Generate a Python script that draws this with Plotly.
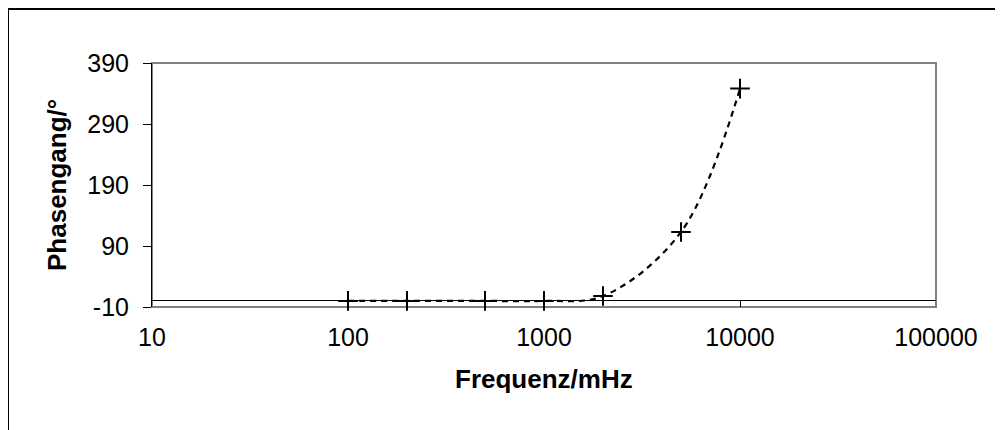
import plotly.graph_objects as go

# Data
frequency_mhz = [100, 200, 500, 1000, 2000, 5000, 10000]
phase_deg = [0, 0, 0, 0, 8, 113, 348]

x_tick_vals = [10, 100, 1000, 10000, 100000]
x_tick_text = ["10", "100", "1000", "10000", "100000"]
y_tick_vals = [-10, 90, 190, 290, 390]
y_tick_text = ["-10", "90", "190", "290", "390"]

# figure is placed by the page at (8, 8); sizes chosen so it fits the window
W, H = 995, 422
L, R, T, B = 144, 67, 55, 123
PW, PH = W - L - R, H - T - B

FONT = "Liberation Sans, Arial, sans-serif"
TICK_SIZE = 25
TITLE_SIZE = 26

fig = go.Figure()
fig.add_trace(go.Scatter(
    x=frequency_mhz, y=phase_deg,
    mode="lines+markers",
    line=dict(color="black", width=2.2, dash="6px,5px", shape="spline", smoothing=1.0),
    marker=dict(symbol="cross-thin", size=14, line=dict(color="black", width=2), color="black"),
    showlegend=False,
    cliponaxis=False,
))


def px_x(p):
    return (p - L) / PW


def px_y(p):
    return (T + PH - p) / PH


fig.update_layout(
    width=W, height=H,
    margin=dict(l=L, r=R, t=T, b=B, pad=0),
    paper_bgcolor="white", plot_bgcolor="white",
    font=dict(family=FONT, size=TICK_SIZE, color="black"),
    xaxis=dict(
        type="log", range=[1, 5],
        tickmode="array", tickvals=x_tick_vals, ticktext=x_tick_text,
        ticks="inside", ticklen=7, tickwidth=1, tickcolor="black",
        showgrid=False, zeroline=False, showline=False,
        ticklabelstandoff=13,
        tickfont=dict(family=FONT, size=TICK_SIZE, color="black"),
    ),
    yaxis=dict(
        range=[-10, 390],
        tickmode="array", tickvals=y_tick_vals, ticktext=y_tick_text,
        ticks="outside", ticklen=8, tickwidth=1, tickcolor="black",
        showgrid=False, zeroline=True, zerolinecolor="black", zerolinewidth=1,
        showline=True, linecolor="black", linewidth=1,
        ticklabelstandoff=9,
        tickfont=dict(family=FONT, size=TICK_SIZE, color="black"),
    ),
    shapes=[
        # plot area border (grey)
        dict(type="rect", xref="paper", yref="paper", x0=0, x1=1, y0=0, y1=1,
             line=dict(color="#808080", width=2), layer="below"),
        # outer chart frame
        dict(type="rect", xref="paper", yref="paper",
             x0=px_x(0), x1=px_x(W + 20), y0=px_y(H + 20), y1=px_y(1),
             line=dict(color="black", width=2), layer="below"),
    ],
    annotations=[
        dict(text="<b>Frequenz/mHz</b>", xref="paper", yref="paper",
             x=0.5, y=px_y(371), xanchor="center", yanchor="middle",
             showarrow=False, font=dict(family=FONT, size=TITLE_SIZE, color="black")),
        dict(text="<b>Phasengang/°</b>", xref="paper", yref="paper",
             x=px_x(49), y=0.5, xanchor="center", yanchor="middle", textangle=-90,
             showarrow=False, font=dict(family=FONT, size=TITLE_SIZE, color="black")),
    ],
)

fig.write_html("out.html")
